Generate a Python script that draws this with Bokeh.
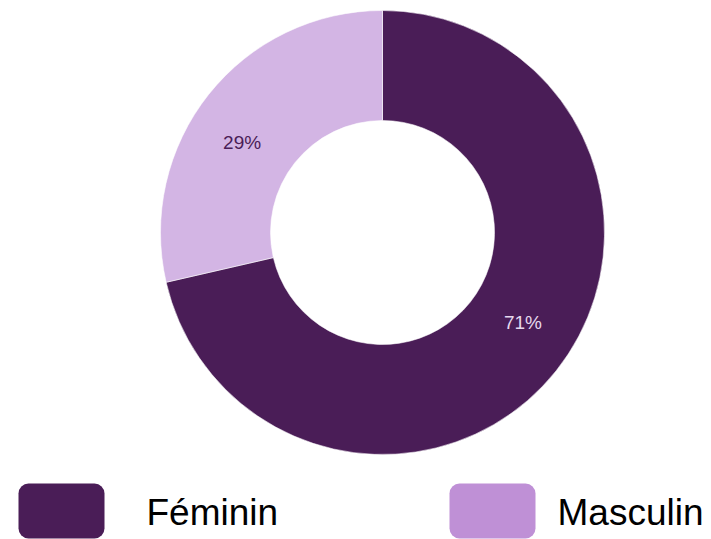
import numpy as np
from bokeh.plotting import figure
from bokeh.models import Range1d, BoxAnnotation, ColumnDataSource
from bokeh.core.properties import value
from bokeh.embed import file_html
from bokeh.resources import INLINE

# Data
categories = ["Féminin", "Masculin"]
shares = [71.4, 28.6]
pct_labels = ["71%", "29%"]
slice_colors = ["#4A1D57", "#D3B5E4"]
swatch_colors = ["#4A1D57", "#BF90D6"]
label_colors = ["#E6D8EE", "#4A1D57"]

W, H = 711, 539
p = figure(width=W, height=H, output_backend="svg", toolbar_location=None,
           x_range=Range1d(0, W), y_range=Range1d(0, H),
           x_axis_type=None, y_axis_type=None, min_border=0)
p.grid.visible = False
p.outline_line_color = None
p.background_fill_color = "white"

cx, cy = 382, 307
r_out, r_in = 222, 112

fr = np.array(shares) / sum(shares)
ends_cum = np.cumsum(fr)
starts_cum = ends_cum - fr
start_ang = np.pi / 2 - starts_cum * 2 * np.pi
end_ang = np.pi / 2 - ends_cum * 2 * np.pi
mid_ang = (start_ang + end_ang) / 2 + 0.1
r_lab = (r_out + r_in) / 2

src = ColumnDataSource(dict(
    x=[cx] * len(shares), y=[cy] * len(shares),
    start=list(start_ang), end=list(end_ang), color=slice_colors,
    lx=list(cx + r_lab * np.cos(mid_ang)), ly=list(cy + r_lab * np.sin(mid_ang)),
    txt=pct_labels, tcol=label_colors,
))

p.annular_wedge(x="x", y="y", inner_radius=r_in, outer_radius=r_out,
                start_angle="start", end_angle="end", direction="clock",
                fill_color="color", line_color="white", line_width=0.8, line_alpha=0.7,
                source=src)

p.text(x="lx", y="ly", text="txt", text_color="tcol",
       text_font=value("Liberation Sans"), text_font_size="19px",
       text_align="center", text_baseline="middle", source=src)

# Legend
sw_left = [18, 449]
text_left = [146, 557]
sw_w = 86
for i, name in enumerate(categories):
    box = BoxAnnotation(left=sw_left[i], right=sw_left[i] + sw_w, bottom=1, top=56,
                        fill_color=swatch_colors[i], fill_alpha=1.0, line_color=None,
                        border_radius=10)
    p.add_layout(box)
    p.text(x=[text_left[i]], y=[27], text=[name], text_color="#000000",
           text_font=value("Liberation Sans"), text_font_size="37px",
           text_align="left", text_baseline="alphabetic")

open("out.html", "w").write(file_html(p, INLINE))
